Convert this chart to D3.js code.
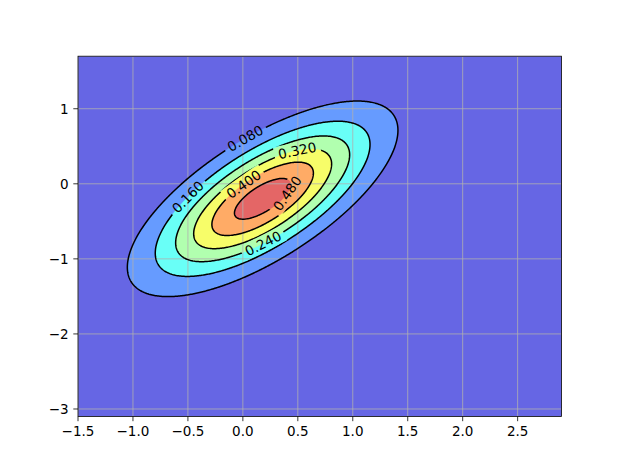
<!DOCTYPE html>
<html><head><meta charset="utf-8">
<script src="https://cdn.jsdelivr.net/npm/d3@7"></script>
<style>body{margin:0;background:#fff} svg{display:block} text{font-family:"DejaVu Sans",sans-serif;}</style>
</head><body><svg id="c" width="624" height="468"></svg>
<script>
const xDomain = [-1.5, 2.9];
const yDomain = [-3.1, 1.7];
const xTickValues = [-1.5, -1.0, -0.5, 0.0, 0.5, 1.0, 1.5, 2.0, 2.5];
const yTickValues = [-3, -2, -1, 0, 1];
const levels = [0, 0.08, 0.16, 0.24, 0.32, 0.40, 0.48, 0.56];
const layerColors = ["#6666e4", "#669bff", "#69fff7", "#b1ffaf", "#f7fd69", "#ffab66", "#e46666"];
const meanXY = [0.18, -0.2];
const sigmaXY = [0.636, 0.673];
const rho = [0.7];
const labelLevels = [0.08, 0.16, 0.24, 0.32, 0.40, 0.48];
const labelAnchorX = [0.019, -0.497, 0.186, 0.495, 0.004, 0.422];
const labelAnchorY = [0.613, -0.173, -0.809, 0.435, 0.004, -0.143];

const L = 78, R = 561.6, T = 56.2, B = 416.5;
const FS = 13.5, TICK = 4.7, PAD = 4.7;
const svg = d3.select("#c");
const x = d3.scaleLinear().domain(xDomain).range([L, R]);
const y = d3.scaleLinear().domain(yDomain).range([B, T]);

// density grid of the bivariate normal
const step = 0.01;
const nx = Math.round((xDomain[1] - xDomain[0]) / step);
const ny = Math.round((yDomain[1] - yDomain[0]) / step);
const sx = sigmaXY[0], sy = sigmaXY[1], r = rho[0];
const norm = 1 / (2 * Math.PI * sx * sy * Math.sqrt(1 - r * r));
const vals = new Float64Array(nx * ny);
for (let j = 0; j < ny; j++) {
  const yv = yDomain[0] + (j + 0.5) * step;
  const v = (yv - meanXY[1]) / sy;
  for (let i = 0; i < nx; i++) {
    const xv = xDomain[0] + (i + 0.5) * step;
    const u = (xv - meanXY[0]) / sx;
    const q = (u * u - 2 * r * u * v + v * v) / (1 - r * r);
    vals[i + j * nx] = norm * Math.exp(-0.5 * q);
  }
}
const gx = g => x(xDomain[0] + g * step);
const gy = g => y(yDomain[0] + g * step);
const proj = d3.geoTransform({point(px, py) { this.stream.point(gx(px), gy(py)); }});
const path = d3.geoPath(proj);
const contourGen = d3.contours().size([nx, ny]);

const defs = svg.append("defs");
defs.append("clipPath").attr("id", "clip").append("rect")
  .attr("x", L).attr("y", T).attr("width", R - L).attr("height", B - T);

const plot = svg.append("g").attr("clip-path", "url(#clip)");
plot.append("rect").attr("x", L).attr("y", T).attr("width", R - L).attr("height", B - T)
  .attr("fill", layerColors[0]);
const fillContours = contourGen.thresholds(levels.slice(1, levels.length - 1))(vals);
plot.selectAll("path.fill").data(fillContours).join("path")
  .attr("class", "fill")
  .attr("d", path)
  .attr("fill", (d, i) => layerColors[i + 1])
  .attr("stroke", (d, i) => layerColors[i + 1]).attr("stroke-width", 0.3);

// grid
plot.selectAll("line.gx").data(xTickValues).join("line").attr("class", "gx")
  .attr("x1", d => x(d)).attr("x2", d => x(d)).attr("y1", T).attr("y2", B)
  .attr("stroke", "#b0b0b0").attr("stroke-width", 0.8);
plot.selectAll("line.gy").data(yTickValues).join("line").attr("class", "gy")
  .attr("y1", d => y(d)).attr("y2", d => y(d)).attr("x1", L).attr("x2", R)
  .attr("stroke", "#b0b0b0").attr("stroke-width", 0.8);

// mask for inline labels
const mask = defs.append("mask").attr("id", "lblmask").attr("maskUnits", "userSpaceOnUse")
  .attr("x", 0).attr("y", 0).attr("width", 624).attr("height", 468);
mask.append("rect").attr("x", 0).attr("y", 0).attr("width", 624).attr("height", 468).attr("fill", "white");

const lineContours = contourGen.thresholds(labelLevels)(vals);
plot.append("g").attr("mask", "url(#lblmask)")
  .selectAll("path").data(lineContours).join("path")
  .attr("d", path).attr("fill", "none").attr("stroke", "#000").attr("stroke-width", 1.5)
  .attr("stroke-linejoin", "round");

// labels
const lblG = svg.append("g");
labelLevels.forEach((lev, k) => {
  const c = lineContours[k];
  const ax = x(labelAnchorX[k]), ay = y(labelAnchorY[k]);
  let best = null, bd = Infinity;
  c.coordinates.forEach(poly => poly.forEach(ring => {
    const pts = ring.map(p => [gx(p[0]), gy(p[1])]);
    pts.forEach((p, i) => {
      const d = (p[0] - ax) ** 2 + (p[1] - ay) ** 2;
      if (d < bd) { bd = d; best = {pts, i}; }
    });
  }));
  const {pts, i} = best;
  const n = pts.length;
  const a = pts[(i - 5 + n) % n], b = pts[(i + 5) % n];
  let ang = Math.atan2(b[1] - a[1], b[0] - a[0]) * 180 / Math.PI;
  if (ang > 90) ang -= 180;
  if (ang < -90) ang += 180;
  const p = pts[i];
  const t = lblG.append("text")
    .attr("transform", `translate(${p[0]},${p[1]}) rotate(${ang})`)
    .attr("text-anchor", "middle").attr("dy", "0.36em")
    .attr("font-size", FS).attr("fill", "#000")
    .text(d3.format(".3f")(lev));
  const tw = t.node().getComputedTextLength();
  mask.append("rect")
    .attr("transform", `translate(${p[0]},${p[1]}) rotate(${ang})`)
    .attr("x", -tw / 2 - 4).attr("y", -8).attr("width", tw + 8).attr("height", 16)
    .attr("fill", "black");
});

// spines
svg.append("rect").attr("x", L).attr("y", T).attr("width", R - L).attr("height", B - T)
  .attr("fill", "none").attr("stroke", "#000").attr("stroke-width", 0.8);

const fmtX = d => d3.format(".1f")(d).replace("-", "\u2212");
const fmtY = d => d3.format("d")(d).replace("-", "\u2212");
const xt = svg.append("g");
xTickValues.forEach(v => {
  xt.append("line").attr("x1", x(v)).attr("x2", x(v)).attr("y1", B).attr("y2", B + TICK)
    .attr("stroke", "#000").attr("stroke-width", 0.8);
  xt.append("text").attr("x", x(v)).attr("y", B + TICK + PAD + 10)
    .attr("text-anchor", "middle").attr("font-size", FS).attr("fill", "#000").text(fmtX(v));
});
const yt = svg.append("g");
yTickValues.forEach(v => {
  yt.append("line").attr("x1", L - TICK).attr("x2", L).attr("y1", y(v)).attr("y2", y(v))
    .attr("stroke", "#000").attr("stroke-width", 0.8);
  yt.append("text").attr("x", L - TICK - PAD).attr("y", y(v)).attr("dy", "0.36em")
    .attr("text-anchor", "end").attr("font-size", FS).attr("fill", "#000").text(fmtY(v));
});
</script></body></html>
